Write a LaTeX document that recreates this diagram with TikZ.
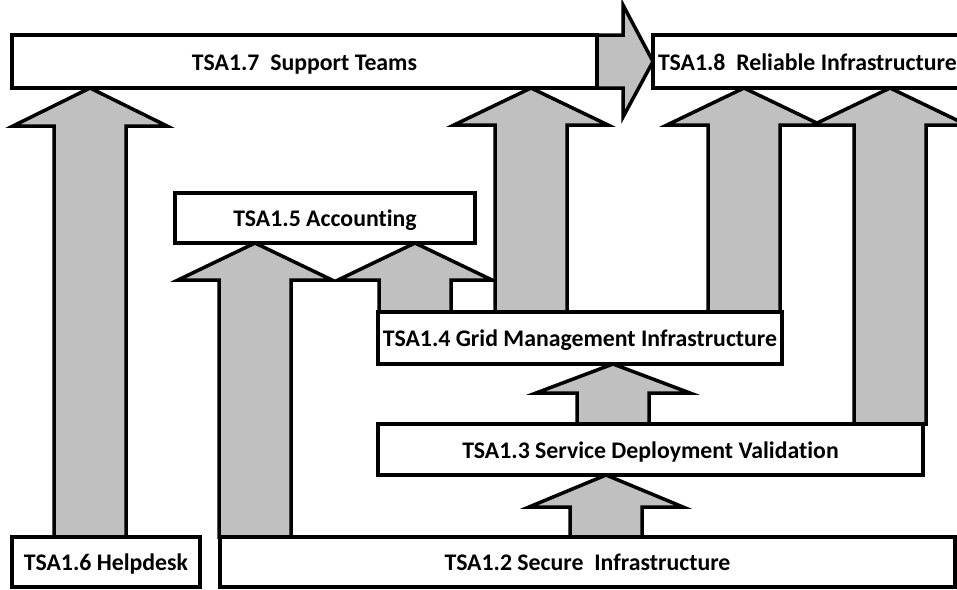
\documentclass[tikz,border=0pt]{standalone}
\usepackage{fontspec}
\setmainfont{Carlito}[Ligatures=NoCommon]
\usetikzlibrary{calc}
\pgfdeclarelayer{background}
\pgfsetlayers{background,main}
\definecolor{risergray}{RGB}{192,192,192}
\tikzset{
  taskbox/.style={draw=black, fill=white, line width=3.5pt, outer sep=0pt,
    inner sep=0pt, text height=17pt, text depth=0pt,
    font=\fontsize{23.8}{28}\selectfont\bfseries},
  riserarrow/.style={draw=black, fill=risergray, line width=3.5pt, line join=miter},
}
% upward block arrow: #1 x of the tip, #2 source box, #3 target box, #4 head length
\newcommand\taskriser[4]{%
  \filldraw[riserarrow] let \p1=(#3.south), \p2=(#2.north) in
    (#1pt-36pt,\y2) -- (#1pt-36pt,\y1-#4pt) -- (#1pt-77pt,\y1-#4pt) -- (#1pt,\y1)
    -- (#1pt+77pt,\y1-#4pt) -- (#1pt+36pt,\y1-#4pt) -- (#1pt+36pt,\y2) -- cycle;}
\begin{document}
\begin{tikzpicture}[x=1pt,y=-1pt]
\useasboundingbox (0,0) rectangle (957,589);
\clip (0,0) rectangle (957,589);

% task boxes
\node[taskbox, minimum width=585, minimum height=53] (t17) at (304.5,61.5) {TSA1.7~~Support Teams};
\node[taskbox, anchor=west, minimum height=53, inner xsep=5pt]
  (t18) at (653,61.5) {\makebox[345pt][l]{TSA1.8~~Reliable Infrastructure}};
\node[taskbox, minimum width=300, minimum height=50] (t15) at (325,218) {TSA1.5 Accounting};
\node[taskbox, minimum width=404, minimum height=52] (t14) at (580,338) {TSA1.4 Grid Management Infrastructure};
\node[taskbox, minimum width=545, minimum height=51] (t13) at (650.5,449.5) {TSA1.3 Service Deployment Validation};
\node[taskbox, minimum width=188, minimum height=50] (t16) at (106,562) {TSA1.6 Helpdesk};
\node[taskbox, minimum width=735, minimum height=50] (t12) at (587.5,562) {TSA1.2 Secure~~Infrastructure};

% dependency arrows behind the boxes
\begin{pgfonlayer}{background}
  \taskriser{90}{t16}{t17}{38}
  \taskriser{255}{t12}{t15}{37}
  \taskriser{415}{t14}{t15}{37}
  \taskriser{531}{t14}{t17}{37}
  \taskriser{744}{t14}{t18}{37}
  \taskriser{890}{t13}{t18}{37}
  \taskriser{613}{t13}{t14}{29}
  \taskriser{606}{t12}{t13}{32}
  \filldraw[riserarrow] let \p1=(t17.east), \p2=(t18.west), \p3=(t17.north), \p4=(t17.south) in
    (\x1,\y3) -- (\x2-30pt,\y3) -- (\x2-30pt,\y3+30pt) -- (\x2,\y2)
    -- (\x2-30pt,\y4-29pt) -- (\x2-30pt,\y4) -- (\x1,\y4) -- cycle;
\end{pgfonlayer}
\end{tikzpicture}
\end{document}
